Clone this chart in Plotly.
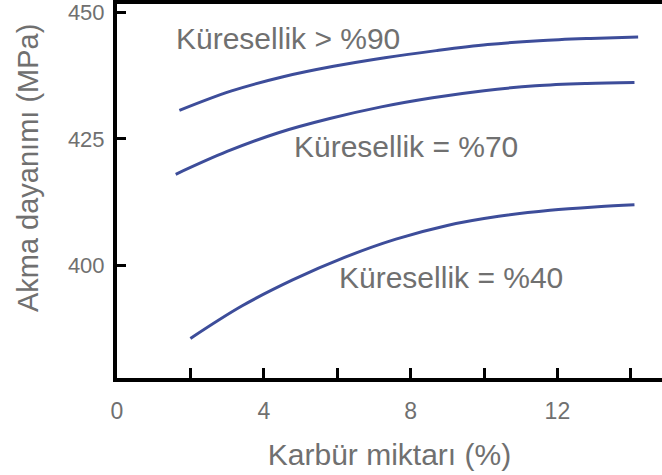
import plotly.graph_objects as go

# Carbide content (%) vs yield strength (MPa) for three spheroidisation levels
x_90 = [1.7, 3.1, 4.5, 5.9, 7.3, 8.7, 10.1, 11.5, 12.9, 14.2]
y_90 = [430.6, 434.4, 437.2, 439.3, 441.0, 442.4, 443.6, 444.35, 444.8, 445.1]

x_70 = [1.6, 3.0, 4.4, 5.8, 7.2, 8.6, 10.0, 11.4, 12.8, 14.1]
y_70 = [418.0, 422.5, 426.2, 429.0, 431.3, 433.1, 434.5, 435.45, 435.9, 436.1]

x_40 = [2.0, 3.4, 4.8, 6.2, 7.6, 9.0, 10.4, 11.8, 13.1, 14.1]
y_40 = [385.6, 392.0, 397.2, 401.6, 405.2, 407.9, 409.7, 410.9, 411.6, 412.0]

x_tickvals = [0, 2, 4, 6, 8, 10, 12, 14]
x_ticktext = ["0", "", "4", "", "8", "", "12", ""]
y_tickvals = [400, 425, 450]

labels = ["Küresellik > %90", "Küresellik = %70", "Küresellik = %40"]
label_x = [1.55, 4.78, 6.0]
label_y = [444.7, 423.5, 397.6]

LINE = "#3d4d9a"
TEXT = "#707070"
FONT = "Liberation Sans, Arial, sans-serif"

W, H = 662, 475
ML, MR, MT, MB = 117, 0, 2, 97

fig = go.Figure()
for xs, ys in [(x_90, y_90), (x_70, y_70), (x_40, y_40)]:
    fig.add_trace(go.Scatter(
        x=xs, y=ys, mode="lines",
        line=dict(color=LINE, width=3, shape="spline", smoothing=1.0),
        showlegend=False, hoverinfo="skip",
    ))

for t, lx, ly in zip(labels, label_x, label_y):
    fig.add_annotation(
        x=lx, y=ly, xref="x", yref="y", text=t, showarrow=False,
        xanchor="left", yanchor="middle",
        font=dict(family=FONT, size=30, color=TEXT),
    )

# vertical axis title, placed by pixel position converted to paper fractions
fig.add_annotation(
    x=(28 - ML) / (W - ML - MR), y=1 - (167 - MT) / (H - MT - MB),
    xref="paper", yref="paper", text="Akma dayanımı (MPa)",
    showarrow=False, textangle=-90, xanchor="center", yanchor="middle",
    font=dict(family=FONT, size=29, color=TEXT),
)

fig.update_layout(
    width=W, height=H,
    margin=dict(l=ML, r=MR, t=MT, b=MB, pad=0),
    plot_bgcolor="white", paper_bgcolor="white",
    font=dict(family=FONT, color=TEXT),
    xaxis=dict(
        range=[0, 14.85], tickvals=x_tickvals, ticktext=x_ticktext,
        ticks="inside", ticklen=10, tickwidth=3, tickcolor="black",
        showline=True, linecolor="black", linewidth=4, mirror=True,
        showgrid=False, zeroline=False,
        tickfont=dict(family=FONT, size=23, color=TEXT),
        ticklabelstandoff=9,
        title=dict(text="Karbür miktarı (%)", standoff=22,
                   font=dict(family=FONT, size=30, color=TEXT)),
    ),
    yaxis=dict(
        range=[377.8, 451.6], tickvals=y_tickvals,
        ticks="inside", ticklen=9, tickwidth=3, tickcolor="black",
        showline=True, linecolor="black", linewidth=4,
        showgrid=False, zeroline=False,
        tickfont=dict(family=FONT, size=22, color=TEXT),
        ticklabelstandoff=4, ticklabeloverflow="allow",
    ),
)

fig.write_html("out.html")
